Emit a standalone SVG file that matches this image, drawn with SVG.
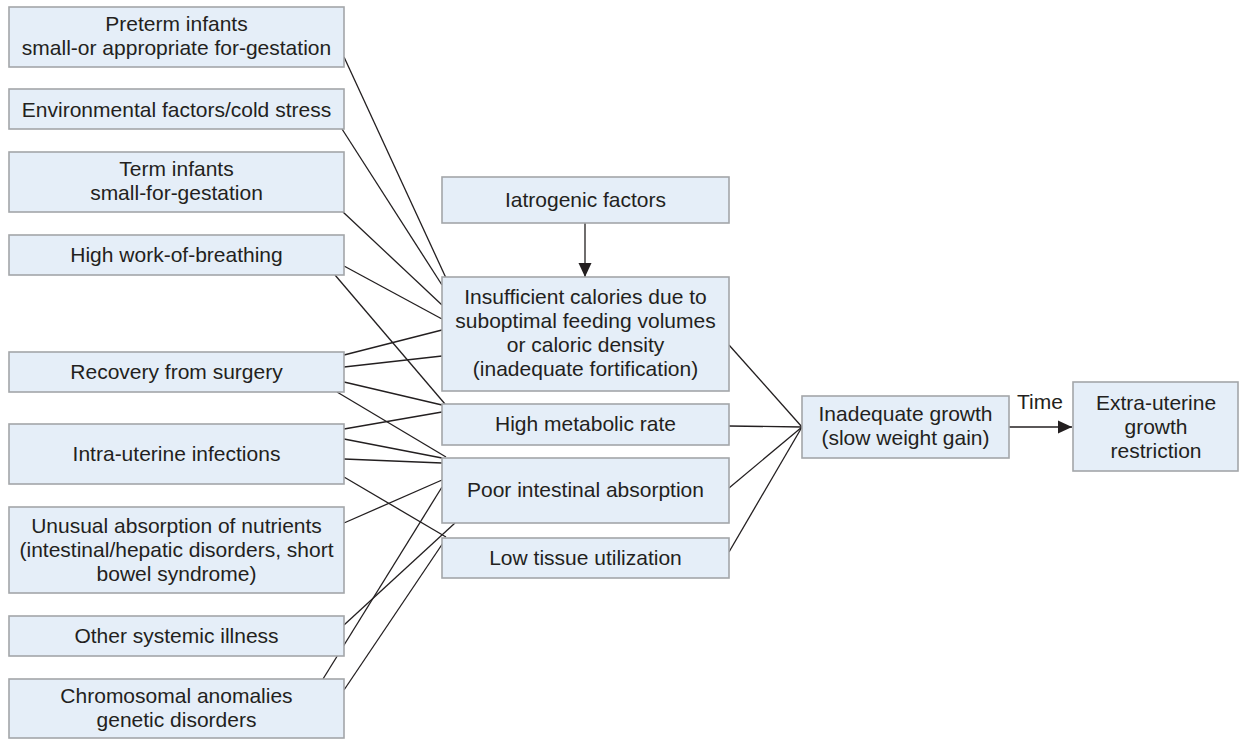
<svg xmlns="http://www.w3.org/2000/svg" width="1239" height="739" viewBox="0 0 1239 739">
<style>
.box{fill:#e5eef8;stroke:#a3a6a9;stroke-width:1.6}
.t{font-family:"Liberation Sans",Arial,sans-serif;font-size:21px;fill:#231f20;text-anchor:middle}
.c line{stroke:#231f20;stroke-width:1.3;fill:none}
</style>
<defs>
<marker id="ah" markerUnits="userSpaceOnUse" markerWidth="14" markerHeight="14" viewBox="0 0 14 14" refX="14" refY="7" orient="auto">
<path d="M0,0.5 L14,7 L0,13.5 Z" fill="#231f20"/>
</marker>
</defs>
<rect width="1239" height="739" fill="#ffffff"/>
<g id="connectors" class="c">
<line x1="344" y1="57" x2="446" y2="278"/>
<line x1="342" y1="129" x2="442" y2="285"/>
<line x1="343" y1="212" x2="442" y2="305"/>
<line x1="344" y1="266" x2="442" y2="319"/>
<line x1="335" y1="275" x2="445" y2="404"/>
<line x1="344" y1="355" x2="442" y2="330"/>
<line x1="344" y1="367" x2="442" y2="356"/>
<line x1="344" y1="382" x2="442" y2="405"/>
<line x1="337" y1="392" x2="446" y2="457"/>
<line x1="344" y1="429" x2="442" y2="412"/>
<line x1="344" y1="439" x2="442" y2="458"/>
<line x1="344" y1="459" x2="442" y2="463"/>
<line x1="344" y1="477" x2="446" y2="537"/>
<line x1="344" y1="523" x2="442" y2="480"/>
<line x1="344" y1="625" x2="455" y2="523"/>
<line x1="323" y1="679" x2="442" y2="487"/>
<line x1="344" y1="690" x2="445" y2="540"/>
<line x1="729" y1="345" x2="802" y2="427"/>
<line x1="729" y1="426" x2="802" y2="427"/>
<line x1="729" y1="488" x2="802" y2="427"/>
<line x1="729" y1="552" x2="802" y2="427"/>
<line x1="585" y1="223" x2="585" y2="277" marker-end="url(#ah)"/>
<line x1="1009" y1="427" x2="1072" y2="427" marker-end="url(#ah)"/>
</g>
<g id="n1"><rect class="box" x="9" y="7" width="335" height="60"/><text class="t" x="176.5" y="31">Preterm infants</text><text class="t" x="176.5" y="55">small-or appropriate for-gestation</text></g>
<g id="n2"><rect class="box" x="9" y="89" width="335" height="40"/><text class="t" x="176.5" y="117">Environmental factors/cold stress</text></g>
<g id="n3"><rect class="box" x="9" y="152" width="335" height="60"/><text class="t" x="176.5" y="176">Term infants</text><text class="t" x="176.5" y="200">small-for-gestation</text></g>
<g id="n4"><rect class="box" x="9" y="235" width="335" height="40"/><text class="t" x="176.5" y="262">High work-of-breathing</text></g>
<g id="n5"><rect class="box" x="9" y="352" width="335" height="40"/><text class="t" x="176.5" y="379">Recovery from surgery</text></g>
<g id="n6"><rect class="box" x="9" y="424" width="335" height="60"/><text class="t" x="176.5" y="461">Intra-uterine infections</text></g>
<g id="n7"><rect class="box" x="9" y="507" width="335" height="86"/><text class="t" x="176.5" y="533">Unusual absorption of nutrients</text><text class="t" x="176.5" y="557">(intestinal/hepatic disorders, short</text><text class="t" x="176.5" y="581">bowel syndrome)</text></g>
<g id="n8"><rect class="box" x="9" y="616" width="335" height="40"/><text class="t" x="176.5" y="643">Other systemic illness</text></g>
<g id="n9"><rect class="box" x="9" y="679" width="335" height="59"/><text class="t" x="176.5" y="703">Chromosomal anomalies</text><text class="t" x="176.5" y="727">genetic disorders</text></g>
<g id="n10"><rect class="box" x="442" y="177" width="287" height="46"/><text class="t" x="585.5" y="207">Iatrogenic factors</text></g>
<g id="n11"><rect class="box" x="442" y="277" width="287" height="114"/><text class="t" x="585.5" y="304">Insufficient calories due to</text><text class="t" x="585.5" y="328">suboptimal feeding volumes</text><text class="t" x="585.5" y="352">or caloric density</text><text class="t" x="585.5" y="376">(inadequate fortification)</text></g>
<g id="n12"><rect class="box" x="442" y="404" width="287" height="41"/><text class="t" x="585.5" y="431">High metabolic rate</text></g>
<g id="n13"><rect class="box" x="442" y="458" width="287" height="65"/><text class="t" x="585.5" y="497">Poor intestinal absorption</text></g>
<g id="n14"><rect class="box" x="442" y="538" width="287" height="40"/><text class="t" x="585.5" y="565">Low tissue utilization</text></g>
<g id="n15"><rect class="box" x="802" y="396" width="207" height="62"/><text class="t" x="905.5" y="421">Inadequate growth</text><text class="t" x="905.5" y="445">(slow weight gain)</text></g>
<g id="n16"><rect class="box" x="1073" y="382" width="165" height="89"/><text class="t" x="1156" y="410">Extra-uterine</text><text class="t" x="1156" y="434">growth</text><text class="t" x="1156" y="458">restriction</text></g>
<text class="t" x="1040" y="409">Time</text>
</svg>
